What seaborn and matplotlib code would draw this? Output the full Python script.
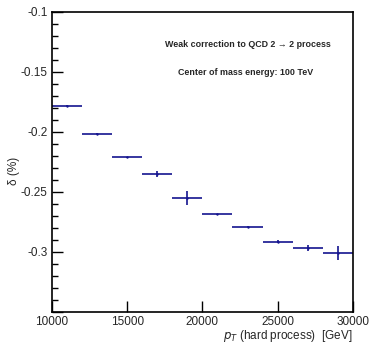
import numpy as np
import pandas as pd
import seaborn as sns
import matplotlib.pyplot as plt
from matplotlib.ticker import MultipleLocator, FuncFormatter

# Bin centres (GeV), relative weak correction (%) and statistical errors
pt_centers = [11000, 13000, 15000, 17000, 19000, 21000, 23000, 25000, 27000, 29000]
delta = [-0.178, -0.2015, -0.2213, -0.2353, -0.2550, -0.2686, -0.2790, -0.2915, -0.2968, -0.3008]
delta_err = [0.0003, 0.0003, 0.0008, 0.0025, 0.0058, 0.0002, 0.0005, 0.0013, 0.0028, 0.0061]
bin_half_width = [1000] * 10

title_lines = ["Weak correction to QCD 2 \u2192 2 process", "Center of mass energy: 100 TeV"]

df = pd.DataFrame({"pt": pt_centers, "delta": delta, "err": delta_err, "xerr": bin_half_width})

sns.set_style("ticks")
plt.rcParams["font.family"] = ["Liberation Sans", "DejaVu Sans"]
plt.rcParams["axes.unicode_minus"] = False

fig = plt.figure(figsize=(3.71, 3.43), dpi=100)
ax = fig.add_axes([0.140, 0.0904, 0.811, 0.875])

line_color = "#14148f"
sns.scatterplot(data=df, x="pt", y="delta", ax=ax, s=3, color=line_color, linewidth=0, legend=False)
ax.errorbar(df["pt"], df["delta"], xerr=df["xerr"], yerr=df["err"], fmt="none",
            ecolor=line_color, elinewidth=1.2, capsize=0)

ax.set_xlim(10000, 30000)
ax.set_ylim(-0.35, -0.1)
ax.xaxis.set_major_locator(MultipleLocator(5000))
ax.yaxis.set_major_locator(MultipleLocator(0.05))
ax.yaxis.set_minor_locator(MultipleLocator(0.01))


def ylab(v, p):
    # ROOT style: no label on the bottom edge
    if v < -0.345:
        return ""
    return "%g" % round(v, 3)


ax.yaxis.set_major_formatter(FuncFormatter(ylab))

ax.tick_params(axis="both", which="both", direction="in", labelsize=8.5, color="black")
ax.tick_params(axis="both", which="major", length=8, width=1)
ax.tick_params(axis="y", which="minor", length=4, width=1)
ax.tick_params(axis="x", pad=3)
ax.tick_params(axis="y", pad=3)
for s in ax.spines.values():
    s.set_linewidth(1.2)
    s.set_color("black")

ax.set_xlabel("$p_{T}$ (hard process)  [GeV]", fontsize=8.5, ha="right", va="center")
ax.xaxis.set_label_coords(1.0, -0.079)
ax.set_ylabel("\u03b4 (%)", fontsize=8.5, ha="center", va="center")
ax.yaxis.set_label_coords(-0.125, 0.47)

ax.text(0.65, 0.89, title_lines[0], transform=ax.transAxes, ha="center", va="center",
        fontsize=6.4, fontweight="bold")
ax.text(0.645, 0.797, title_lines[1], transform=ax.transAxes, ha="center", va="center",
        fontsize=6.4, fontweight="bold")

fig.savefig("out.png", dpi=100)
